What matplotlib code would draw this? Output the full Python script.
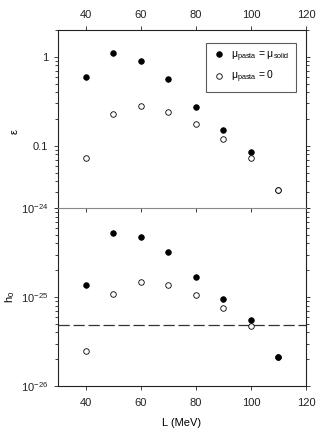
import matplotlib
matplotlib.use("Agg")
import matplotlib.pyplot as plt
from matplotlib.ticker import LogLocator, NullFormatter, FixedLocator

plt.rcParams['font.family'] = ['Liberation Sans', 'DejaVu Sans']
plt.rcParams['mathtext.fontset'] = 'custom'
plt.rcParams['mathtext.rm'] = 'Liberation Sans'
plt.rcParams['mathtext.it'] = 'Liberation Sans:italic'

L = [40, 50, 60, 70, 80, 90, 100, 110]
eps_solid = [0.60, 1.10, 0.89, 0.556, 0.274, 0.150, 0.085, 0.032]
eps_zero = [0.072, 0.229, 0.277, 0.237, 0.175, 0.119, 0.072, 0.032]
h0_solid = [1.35e-25, 5.2e-25, 4.76e-25, 3.23e-25, 1.66e-25, 9.5e-26, 5.56e-26, 2.13e-26]
h0_zero = [2.45e-26, 1.07e-25, 1.49e-25, 1.36e-25, 1.06e-25, 7.6e-26, 4.69e-26, 2.13e-26]
h0_limit = 4.8e-26
xticks = [40, 60, 80, 100, 120]

fig = plt.figure(figsize=(3.27, 4.36), dpi=100)
ax2 = fig.add_axes([0.1774, 0.1147, 0.7584, 0.4082])
ax1 = fig.add_axes([0.1774, 0.5229, 0.7584, 0.4083])
ax1.patch.set_visible(False)

ms = 4
for ax in (ax1, ax2):
    ax.set_yscale('log')
    ax.set_xlim(30, 120)
    ax.xaxis.set_major_locator(FixedLocator(xticks))
    for s in ax.spines.values():
        s.set_linewidth(0.8)
        s.set_color('#222222')
    ax.tick_params(which='both', direction='out', labelsize=8, width=0.6,
                   left=True, right=True, colors='#222222')
    ax.tick_params(which='major', length=3, pad=4)
    ax.tick_params(which='minor', length=2)
    ax.yaxis.set_minor_locator(LogLocator(base=10, subs=range(2, 10)))
    ax.yaxis.set_minor_formatter(NullFormatter())

# top panel
ax1.plot(L, eps_zero, 'o', mfc='white', mec='black', mew=0.6, ms=ms,
         label='μ$_{\\rm pasta}$ = 0', zorder=3)
ax1.plot(L, eps_solid, 'o', mfc='black', mec='black', mew=0.6, ms=ms,
         label='μ$_{\\rm pasta}$ = μ$_{\\rm solid}$', zorder=2)
ax1.set_ylim(0.02, 2)
ax1.yaxis.set_major_locator(FixedLocator([0.1, 1]))
ax1.set_yticklabels(['0.1', '1'])
ax1.tick_params(axis='x', which='both', top=True, labeltop=True, bottom=True, labelbottom=False)
ax1.set_ylabel('ε', fontsize=8)
ax1.yaxis.set_label_coords(-0.155, 0.43)
ax1.spines['bottom'].set_color('#888888')
handles, labels = ax1.get_legend_handles_labels()
leg = ax1.legend(handles[::-1], labels[::-1], loc='upper right', bbox_to_anchor=(0.96, 0.927),
                 fontsize=7.5, frameon=True, fancybox=False, edgecolor='#333333',
                 handletextpad=0.6, borderpad=0.6, labelspacing=0.5, handlelength=1.2,
                 borderaxespad=0)
leg.get_frame().set_linewidth(0.8)

# bottom panel
ax2.axhline(h0_limit, color='#333333', lw=0.9, ls=(0, (9, 3)), zorder=1)
ax2.plot(L, h0_zero, 'o', mfc='white', mec='black', mew=0.6, ms=ms, zorder=2)
ax2.plot(L, h0_solid, 'o', mfc='black', mec='black', mew=0.6, ms=ms, zorder=3)
ax2.set_ylim(1e-26, 1e-24)
ax2.yaxis.set_major_locator(FixedLocator([1e-26, 1e-25, 1e-24]))
ax2.set_yticklabels([r'10$^{-26}$', r'10$^{-25}$', r'10$^{-24}$'])
ax2.tick_params(axis='x', which='both', top=False, bottom=True, labelbottom=True, pad=6)
ax2.spines['top'].set_visible(False)
ax2.set_xlabel('L (MeV)', fontsize=8, labelpad=7)
ax2.set_ylabel(r'h$_0$', fontsize=8)
ax2.yaxis.set_label_coords(-0.165, 0.5)

fig.savefig('out.png', dpi=100)
